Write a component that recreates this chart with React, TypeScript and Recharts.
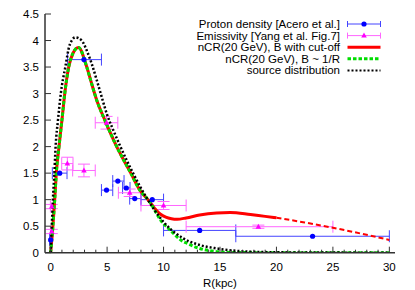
import React from 'react';
import { ComposedChart, Line, Scatter, XAxis, YAxis, ErrorBar, Legend } from 'recharts';

const FONT = '"Liberation Sans", Arial, Helvetica, sans-serif';
const AXIS = '#333333';

// nCR(20 GeV), B with cut-off (solid part)
const cutoffR = [0, 0.2, 0.36, 0.5, 0.74, 1.0, 1.25, 1.6, 2.0, 2.46, 3.2, 3.64, 4.09, 4.8, 5.85, 7.1, 7.9, 8.7, 9.2, 9.7, 10.2, 10.7, 11.2, 12, 13.2, 14.7, 15.9, 17.7, 19.0, 20];
const cutoffN = [0, 0.5, 1.0, 1.5, 2.0, 2.5, 3.0, 3.5, 3.77, 3.87, 3.5, 3.18, 2.87, 2.5, 2.0, 1.5, 1.18, 0.98, 0.84, 0.73, 0.67, 0.64, 0.63, 0.655, 0.71, 0.75, 0.76, 0.72, 0.685, 0.66];
// dashed continuation beyond 20 kpc
const tailR = [20, 22.5, 25, 27.5, 30];
const tailN = [0.66, 0.57, 0.47, 0.36, 0.24];

// nCR(20 GeV), B ~ 1/R
const invR = [0, 0.2, 0.36, 0.5, 0.74, 1.0, 1.25, 1.6, 2.0, 2.46, 3.2, 3.64, 4.09, 4.8, 5.85, 7.1, 7.9, 8.7, 9.97, 10.27, 11.75, 12.05, 13.2, 14.7, 16.2, 20, 25, 30];
const invN = [0, 0.5, 1.0, 1.5, 2.0, 2.5, 3.0, 3.5, 3.77, 3.87, 3.5, 3.18, 2.87, 2.5, 2.0, 1.5, 1.18, 0.98, 0.55, 0.49, 0.21, 0.18, 0.08, 0.02, 0.005, 0, 0, 0];

// source distribution
const srcR = [0, 0.1, 0.2, 0.33, 0.44, 0.65, 0.9, 1.3, 1.69, 2.2, 2.75, 3.2, 3.64, 4.09, 4.53, 4.97, 5.57, 6.2, 7.3, 8.6, 10, 11.75, 13.2, 14.7, 16.2, 17.7, 20, 25, 30];
const srcN = [0, 0.5, 1.0, 1.5, 2.0, 2.5, 3.0, 3.5, 3.92, 4.06, 4.0, 3.81, 3.56, 3.25, 2.93, 2.62, 2.3, 1.99, 1.5, 1.0, 0.58, 0.27, 0.145, 0.08, 0.04, 0.02, 0.008, 0.002, 0];

// Proton density [Acero et al.]
const protonR = [0, 0.8, 2.95, 4.95, 5.95, 6.7, 7.45, 9.0, 13.2, 23.2];
const protonN = [0.24, 1.5, 3.64, 1.18, 1.35, 1.22, 1.02, 1.0, 0.42, 0.31];
const protonLo = [0.1, 0.65, 1.45, 0.45, 0.45, 0.33, 0.45, 1.0, 3.2, 6.8];
const protonHi = [0.1, 0.65, 1.55, 0.55, 0.55, 0.33, 0.55, 1.0, 3.2, 6.8];

// Emissivity [Yang et al. Fig.7]
const emisR = [0.1, 0.1, 1.48, 2.95, 4.95, 7.0, 10.0, 18.4];
const emisN = [0.4, 0.87, 1.68, 1.55, 2.45, 1.13, 0.89, 0.49];
const emisLo = [0.12, 0.12, 0.5, 1.0, 1.0, 1.0, 2.0, 6.4];
const emisHi = [0.12, 0.12, 0.5, 1.0, 1.0, 1.0, 2.0, 6.6];
const emisErr = [0.04, 0.04, 0.12, 0.12, 0.12, 0.07, 0.075, 0.03];

const xTicks = [0, 1, 2, 3, 4, 5, 6, 7, 8, 9, 10, 11, 12, 13, 14, 15, 16, 17, 18, 19, 20, 21, 22, 23, 24, 25, 26, 27, 28, 29, 30];
const xLabels = [0, 5, 10, 15, 20, 25, 30];
const yTicks = [0, 0.5, 1, 1.5, 2, 2.5, 3, 3.5, 4, 4.5];

const legendLabels = [
  'Proton density [Acero et al.]',
  'Emissivity [Yang et al. Fig.7]',
  'nCR(20 GeV), B with cut-off',
  'nCR(20 GeV), B ~ 1/R',
  'source distribution',
];

const toPts = (rs: number[], ns: number[]) => rs.map((r, i) => ({ r, v: ns[i] }));

const protonData = protonR.map((r, i) => ({ r, v: protonN[i], ex: [protonLo[i], protonHi[i]] }));
const emisData = emisR.map((r, i) => ({ r, v: emisN[i], ex: [emisLo[i], emisHi[i]], ey: emisErr[i] }));

const textStyle = { fontFamily: FONT, fontSize: 11.5, fill: '#000' };

const BottomTick = (props: any) => {
  const { x, y, payload } = props;
  const major = xLabels.includes(payload.value);
  return (
    <g>
      <line x1={x} x2={x} y1={y} y2={y - (major ? 6 : 3)} stroke={AXIS} />
      {major && (
        <text x={x} y={y + 18} textAnchor="middle" style={textStyle}>
          {payload.value}
        </text>
      )}
    </g>
  );
};

const TopTick = (props: any) => {
  const { x, y, payload } = props;
  const major = xLabels.includes(payload.value);
  return <line x1={x} x2={x} y1={y} y2={y + (major ? 6 : 3)} stroke={AXIS} />;
};

const LeftTick = (props: any) => {
  const { x, y, payload } = props;
  return (
    <g>
      <line x1={x} x2={x + 6} y1={y} y2={y} stroke={AXIS} />
      <text x={x - 6} y={y + 4} textAnchor="end" style={textStyle}>
        {payload.value}
      </text>
    </g>
  );
};

const RightTick = (props: any) => {
  const { x, y } = props;
  return <line x1={x} x2={x - 6} y1={y} y2={y} stroke={AXIS} />;
};

const BlueDot = (p: any) => <circle cx={p.cx} cy={p.cy} r={2.6} fill="#0000ff" />;
const PinkTri = (p: any) => (
  <polygon
    points={`${p.cx},${p.cy - 3} ${p.cx - 2.8},${p.cy + 2} ${p.cx + 2.8},${p.cy + 2}`}
    fill="#ff00ff"
  />
);

const renderLegend = () => {
  const rows = [7, 18.6, 30.2, 41.8, 53.4];
  const x1 = 197.5;
  const x2 = 230.5;
  const xm = (x1 + x2) / 2;
  return (
    <svg width={240} height={62} style={{ display: 'block' }}>
      {legendLabels.map((t, i) => (
        <text key={t} x={190} y={rows[i] + 4} textAnchor="end" style={textStyle}>
          {t}
        </text>
      ))}
      <g stroke="#4444ff">
        <line x1={x1} x2={x2} y1={rows[0]} y2={rows[0]} />
        <line x1={x1} x2={x1} y1={rows[0] - 3} y2={rows[0] + 3} />
        <line x1={x2} x2={x2} y1={rows[0] - 3} y2={rows[0] + 3} />
      </g>
      <circle cx={xm} cy={rows[0]} r={2.6} fill="#0000ff" />
      <g stroke="#ff66ff">
        <line x1={x1} x2={x2} y1={rows[1]} y2={rows[1]} />
        <line x1={x1} x2={x1} y1={rows[1] - 3} y2={rows[1] + 3} />
        <line x1={x2} x2={x2} y1={rows[1] - 3} y2={rows[1] + 3} />
      </g>
      <polygon points={`${xm},${rows[1] - 3} ${xm - 2.8},${rows[1] + 2} ${xm + 2.8},${rows[1] + 2}`} fill="#ff00ff" />
      <line x1={x1} x2={x2} y1={rows[2]} y2={rows[2]} stroke="#ff0000" strokeWidth={3} />
      <line x1={x1} x2={x2} y1={rows[3]} y2={rows[3]} stroke="#00dd00" strokeWidth={3} strokeDasharray="3.5 2" />
      <line x1={x1} x2={x2} y1={rows[4]} y2={rows[4]} stroke="#000" strokeWidth={2} strokeDasharray="2 2" />
    </svg>
  );
};

export default function App() {
  return (
    <div style={{ position: 'absolute', left: 0, top: 0, background: '#fff' }}>
      <ComposedChart width={415} height={290} margin={{ top: 14, right: 20, bottom: 0, left: 0 }}>
        <XAxis
          dataKey="r"
          type="number"
          domain={[-0.5, 30.5]}
          ticks={xTicks}
          interval={0}
          allowDataOverflow
          height={37.3}
          tickSize={0}
          tickMargin={0}
          tick={<BottomTick />}
          axisLine={{ stroke: AXIS, strokeWidth: 1.5 }}
          tickLine={false}
          label={{ value: 'R(kpc)', position: 'insideBottom', offset: 3, style: textStyle }}
        />
        <XAxis
          xAxisId="top"
          orientation="top"
          type="number"
          domain={[-0.5, 30.5]}
          ticks={xTicks}
          interval={0}
          allowDataOverflow
          height={0}
          tickSize={0}
          tickMargin={0}
          tick={<TopTick />}
          axisLine={{ stroke: AXIS, strokeWidth: 1.5 }}
          tickLine={false}
        />
        <YAxis
          dataKey="v"
          type="number"
          domain={[0, 4.5]}
          ticks={yTicks}
          interval={0}
          allowDataOverflow
          width={45}
          tickSize={0}
          tickMargin={0}
          tick={<LeftTick />}
          axisLine={{ stroke: AXIS, strokeWidth: 1.5 }}
          tickLine={false}
        />
        <YAxis
          yAxisId="right"
          orientation="right"
          type="number"
          domain={[0, 4.5]}
          ticks={yTicks}
          interval={0}
          allowDataOverflow
          width={0}
          tickSize={0}
          tickMargin={0}
          tick={<RightTick />}
          axisLine={{ stroke: AXIS, strokeWidth: 1.5 }}
          tickLine={false}
        />
        <Legend
          layout="vertical"
          align="center"
          verticalAlign="middle"
          wrapperStyle={{ top: 17, left: 150, width: 240, height: 62 }}
          content={renderLegend}
        />
        <Scatter data={protonData} shape={<BlueDot />} isAnimationActive={false}>
          <ErrorBar dataKey="ex" direction="x" width={6} stroke="#4444ff" strokeWidth={1} />
        </Scatter>
        <Scatter data={emisData} shape={<PinkTri />} isAnimationActive={false}>
          <ErrorBar dataKey="ex" direction="x" width={6} stroke="#ff66ff" strokeWidth={1} />
          <ErrorBar dataKey="ey" direction="y" width={6} stroke="#ff66ff" strokeWidth={1} />
        </Scatter>
        <Line data={toPts(cutoffR, cutoffN)} dataKey="v" type="monotone" stroke="#ff0000" strokeWidth={3} dot={false} activeDot={false} isAnimationActive={false} />
        <Line data={toPts(tailR, tailN)} dataKey="v" type="monotone" stroke="#ff0000" strokeWidth={2} strokeDasharray="5 3" dot={false} activeDot={false} isAnimationActive={false} />
        <Line data={toPts(invR, invN)} dataKey="v" type="monotone" stroke="#00dd00" strokeWidth={3} strokeDasharray="3.5 2" dot={false} activeDot={false} isAnimationActive={false} />
        <Line data={toPts(srcR, srcN)} dataKey="v" type="monotone" stroke="#000000" strokeWidth={2.5} strokeDasharray="2 2" dot={false} activeDot={false} isAnimationActive={false} />
      </ComposedChart>
    </div>
  );
}
